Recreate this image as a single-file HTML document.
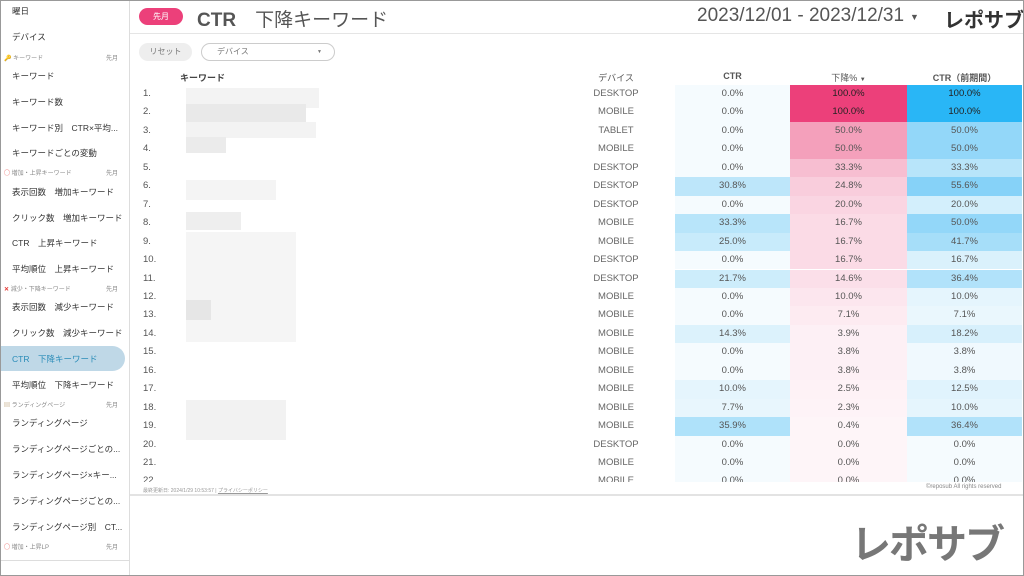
<!DOCTYPE html>
<html><head><meta charset="utf-8"><style>
*{margin:0;padding:0;box-sizing:border-box}
body{width:1024px;height:576px;overflow:hidden;background:#fff;font-family:"Liberation Sans","Noto Sans CJK JP",sans-serif;color:#444;position:relative}
.frame{position:absolute;left:0;top:0;width:1024px;height:576px;border:1px solid #999;z-index:10;pointer-events:none}
.sb{position:absolute;left:0;top:0;width:130px;height:576px;border-right:1px solid #ddd;background:#fff;overflow:hidden}
.si{position:absolute;left:12px;font-size:8.5px;color:#333;white-space:nowrap}
.sec{position:absolute;left:4px;width:118px;font-size:6px;color:#888;white-space:nowrap}
.sec span{position:absolute;right:4px}
.hl{position:absolute;left:0;top:346px;width:125px;height:25px;background:#bfd8e7;border-radius:0 13px 13px 0}
.a{position:absolute;white-space:nowrap}
.r{position:absolute;left:130px;width:894px;height:18.45px;font-size:9.5px;color:#555}
.r div{position:absolute;top:0;height:100%;line-height:18.45px}
.n{left:13px;color:#555}
.k{left:50px;color:#888}
.d{left:436px;width:100px;text-align:center;color:#666}
.c1{left:545px;width:115px;text-align:center}
.c2{left:660px;width:117px;text-align:center}
.c3{left:777px;width:115px;text-align:center}
</style></head><body>
<div class="sb">
<div class="si" style="top:5px">曜日</div>
<div class="si" style="top:31px">デバイス</div>
<div class="sec" style="top:53px">🔑 キーワード<span>先月</span></div>
<div class="si" style="top:70px">キーワード</div>
<div class="si" style="top:96px">キーワード数</div>
<div class="si" style="top:122px">キーワード別　CTR×平均...</div>
<div class="si" style="top:147px">キーワードごとの変動</div>
<div class="sec" style="top:168px"><b style="color:#e53935">◯</b> 増加・上昇キーワード<span>先月</span></div>
<div class="si" style="top:186px">表示回数　増加キーワード</div>
<div class="si" style="top:212px">クリック数　増加キーワード</div>
<div class="si" style="top:237px">CTR　上昇キーワード</div>
<div class="si" style="top:263px">平均順位　上昇キーワード</div>
<div class="sec" style="top:284px"><b style="color:#e53935">✕</b> 減少・下降キーワード<span>先月</span></div>
<div class="si" style="top:301px">表示回数　減少キーワード</div>
<div class="si" style="top:327px">クリック数　減少キーワード</div>
<div class="hl"></div>
<div class="si" style="top:353px;color:#2a8cb8">CTR　下降キーワード</div>
<div class="si" style="top:379px">平均順位　下降キーワード</div>
<div class="sec" style="top:400px"><b style="color:#b89a6a">▤</b> ランディングページ<span>先月</span></div>
<div class="si" style="top:417px">ランディングページ</div>
<div class="si" style="top:443px">ランディングページごとの...</div>
<div class="si" style="top:469px">ランディングページ×キー...</div>
<div class="si" style="top:495px">ランディングページごとの...</div>
<div class="si" style="top:521px">ランディングページ別　CT...</div>
<div class="sec" style="top:542px"><b style="color:#e53935">◯</b> 増加・上昇LP<span>先月</span></div>
<div style="position:absolute;left:0;top:560px;width:130px;border-top:1px solid #ddd"></div>
</div>

<div class="a" style="left:139px;top:8px;width:44px;height:17px;border-radius:9px;background:#ec407a;color:#fff;font-size:8px;text-align:center;line-height:17px">先月</div>
<div class="a" style="left:197px;top:5px;font-size:19px;font-weight:bold;color:#555">CTR　<span style="font-weight:normal">下降キーワード</span></div>
<div class="a" style="left:697px;top:5px;font-size:19px;color:#555">2023/12/01 - 2023/12/31</div>
<div class="a" style="left:910px;top:12px;font-size:9px;color:#555">▼</div>
<div class="a" style="left:944px;top:4px;font-size:20px;font-weight:bold;color:#333">レポサブ</div>
<div class="a" style="left:130px;top:33px;width:894px;border-top:1px solid #e5e5e5"></div>
<div class="a" style="left:139px;top:43px;width:53px;height:18px;border-radius:9px;background:#eee;color:#777;font-size:8px;text-align:center;line-height:18px">リセット</div>
<div class="a" style="left:201px;top:43px;width:134px;height:18px;border-radius:9px;border:1px solid #ccc;color:#777;font-size:8px;line-height:16px;padding-left:15px">デバイス<span style="position:absolute;right:12px;font-size:5px">▼</span></div>

<div class="a" style="left:180px;top:71px;font-size:9px;font-weight:bold;color:#444">キーワード</div>
<div class="a" style="left:566px;top:71px;width:100px;text-align:center;font-size:9px;color:#555">デバイス</div>
<div class="a" style="left:675px;top:71px;width:115px;text-align:center;font-size:9px;font-weight:bold;color:#555">CTR</div>
<div class="a" style="left:790px;top:71px;width:117px;text-align:center;font-size:9px;color:#555">下降% <span style="font-size:6px">▼</span></div>
<div class="a" style="left:907px;top:71px;width:115px;text-align:center;font-size:9px;font-weight:bold;color:#555">CTR（前期間）</div>

<div class="a" style="left:186px;top:88px;width:133px;height:20px;background:#f3f3f3"></div>
<div class="a" style="left:186px;top:104px;width:120px;height:20px;background:#e9e9e9"></div>
<div class="a" style="left:186px;top:122px;width:130px;height:16px;background:#f3f3f3"></div>
<div class="a" style="left:186px;top:137px;width:40px;height:16px;background:#ebebeb"></div>
<div class="a" style="left:186px;top:180px;width:90px;height:20px;background:#f4f4f4"></div>
<div class="a" style="left:186px;top:212px;width:55px;height:18px;background:#eeeeee"></div>
<div class="a" style="left:186px;top:232px;width:110px;height:110px;background:#f5f5f5"></div>
<div class="a" style="left:186px;top:300px;width:25px;height:20px;background:#e6e6e6"></div>
<div class="a" style="left:186px;top:400px;width:100px;height:40px;background:#f2f2f2"></div>

<div style="position:absolute;left:0;top:85px;width:1024px;height:397px;overflow:hidden">
<div class="r" style="top:0px"><div class="n">1.</div><div class="d">DESKTOP</div><div class="c1" style="background:#f5fbfe">0.0%</div><div class="c2" style="background:#ec407a;color:#222">100.0%</div><div class="c3" style="background:#29b6f6;color:#222">100.0%</div></div>
<div class="r" style="top:18.45px"><div class="n">2.</div><div class="d">MOBILE</div><div class="c1" style="background:#f5fbfe">0.0%</div><div class="c2" style="background:#ec407a;color:#222">100.0%</div><div class="c3" style="background:#29b6f6;color:#222">100.0%</div></div>
<div class="r" style="top:36.9px"><div class="n">3.</div><div class="d">TABLET</div><div class="c1" style="background:#f5fbfe">0.0%</div><div class="c2" style="background:#f4a0bb">50.0%</div><div class="c3" style="background:#93d7f9">50.0%</div></div>
<div class="r" style="top:55.35px"><div class="n">4.</div><div class="d">MOBILE</div><div class="c1" style="background:#f5fbfe">0.0%</div><div class="c2" style="background:#f4a0bb">50.0%</div><div class="c3" style="background:#93d7f9">50.0%</div></div>
<div class="r" style="top:73.8px"><div class="n">5.</div><div class="d">DESKTOP</div><div class="c1" style="background:#f5fbfe">0.0%</div><div class="c2" style="background:#f7bed1">33.3%</div><div class="c3" style="background:#b8e5fa">33.3%</div></div>
<div class="r" style="top:92.25px"><div class="n">6.</div><div class="d">DESKTOP</div><div class="c1" style="background:#bde6fa">30.8%</div><div class="c2" style="background:#f9cddc">24.8%</div><div class="c3" style="background:#86d2f8">55.6%</div></div>
<div class="r" style="top:110.7px"><div class="n">7.</div><div class="d">DESKTOP</div><div class="c1" style="background:#f5fbfe">0.0%</div><div class="c2" style="background:#fad5e2">20.0%</div><div class="c3" style="background:#d3effc">20.0%</div></div>
<div class="r" style="top:129.15px"><div class="n">8.</div><div class="d">MOBILE</div><div class="c1" style="background:#b8e5fa">33.3%</div><div class="c2" style="background:#fbdbe6">16.7%</div><div class="c3" style="background:#93d7f9">50.0%</div></div>
<div class="r" style="top:147.6px"><div class="n">9.</div><div class="d">MOBILE</div><div class="c1" style="background:#c8ebfb">25.0%</div><div class="c2" style="background:#fbdbe6">16.7%</div><div class="c3" style="background:#a6def9">41.7%</div></div>
<div class="r" style="top:166.05px"><div class="n">10.</div><div class="d">DESKTOP</div><div class="c1" style="background:#f5fbfe">0.0%</div><div class="c2" style="background:#fbdbe6">16.7%</div><div class="c3" style="background:#daf1fc">16.7%</div></div>
<div class="r" style="top:184.5px"><div class="n">11.</div><div class="d">DESKTOP</div><div class="c1" style="background:#cdedfb">21.7%</div><div class="c2" style="background:#fbdfe9">14.6%</div><div class="c3" style="background:#b1e2fa">36.4%</div></div>
<div class="r" style="top:202.95px"><div class="n">12.</div><div class="d">MOBILE</div><div class="c1" style="background:#f5fbfe">0.0%</div><div class="c2" style="background:#fce6ee">10.0%</div><div class="c3" style="background:#e5f5fd">10.0%</div></div>
<div class="r" style="top:221.4px"><div class="n">13.</div><div class="d">MOBILE</div><div class="c1" style="background:#f5fbfe">0.0%</div><div class="c2" style="background:#fdebf1">7.1%</div><div class="c3" style="background:#eaf7fd">7.1%</div></div>
<div class="r" style="top:239.85px"><div class="n">14.</div><div class="d">MOBILE</div><div class="c1" style="background:#dcf2fc">14.3%</div><div class="c2" style="background:#fdf0f5">3.9%</div><div class="c3" style="background:#d7f0fc">18.2%</div></div>
<div class="r" style="top:258.3px"><div class="n">15.</div><div class="d">MOBILE</div><div class="c1" style="background:#f5fbfe">0.0%</div><div class="c2" style="background:#fdf0f5">3.8%</div><div class="c3" style="background:#f0f9fe">3.8%</div></div>
<div class="r" style="top:276.75px"><div class="n">16.</div><div class="d">MOBILE</div><div class="c1" style="background:#f5fbfe">0.0%</div><div class="c2" style="background:#fdf0f5">3.8%</div><div class="c3" style="background:#f0f9fe">3.8%</div></div>
<div class="r" style="top:295.2px"><div class="n">17.</div><div class="d">MOBILE</div><div class="c1" style="background:#e5f5fd">10.0%</div><div class="c2" style="background:#fef2f6">2.5%</div><div class="c3" style="background:#e0f3fd">12.5%</div></div>
<div class="r" style="top:313.65px"><div class="n">18.</div><div class="d">MOBILE</div><div class="c1" style="background:#e8f6fd">7.7%</div><div class="c2" style="background:#fef3f7">2.3%</div><div class="c3" style="background:#e5f5fd">10.0%</div></div>
<div class="r" style="top:332.1px"><div class="n">19.</div><div class="d">MOBILE</div><div class="c1" style="background:#afe2fa">35.9%</div><div class="c2" style="background:#fef5f8">0.4%</div><div class="c3" style="background:#b1e2fa">36.4%</div></div>
<div class="r" style="top:350.55px"><div class="n">20.</div><div class="d">DESKTOP</div><div class="c1" style="background:#f5fbfe">0.0%</div><div class="c2" style="background:#fef5f8">0.0%</div><div class="c3" style="background:#f5fbfe">0.0%</div></div>
<div class="r" style="top:369px"><div class="n">21.</div><div class="d">MOBILE</div><div class="c1" style="background:#f5fbfe">0.0%</div><div class="c2" style="background:#fef5f8">0.0%</div><div class="c3" style="background:#f5fbfe">0.0%</div></div>
<div class="r" style="top:387.45px"><div class="n">22.</div><div class="d">MOBILE</div><div class="c1" style="background:#f5fbfe">0.0%</div><div class="c2" style="background:#fef5f8">0.0%</div><div class="c3" style="background:#f5fbfe">0.0%</div></div>
</div>

<div class="a" style="left:143px;top:487px;font-size:5px;color:#999">最終更新日: 2024/1/29 10:53:57 | <u>プライバシーポリシー</u></div>
<div class="a" style="left:926px;top:484px;font-size:6px;color:#888">©reposub All rights reserved</div>
<div class="a" style="left:130px;top:494px;width:894px;border-top:2px solid #e3e3e3"></div>
<div class="a" style="left:851px;top:518px;font-size:40px;line-height:54px;font-weight:bold;color:#777;letter-spacing:-2px">レポサブ</div>
<div class="frame"></div>
</body></html>
